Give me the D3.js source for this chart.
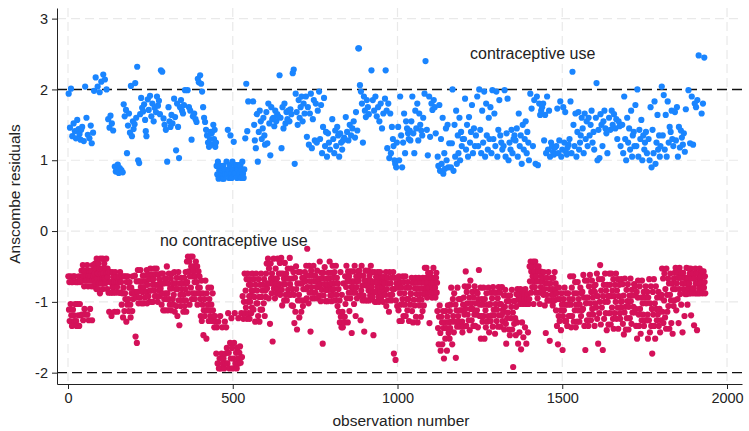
<!DOCTYPE html>
<html>
<head>
<meta charset="utf-8">
<title>Anscombe residuals</title>
<script src="https://cdn.jsdelivr.net/npm/d3@7"></script>
<style>
	body { margin: 0; background: #fff; }
	text { font-family: "Liberation Sans", Arial, sans-serif; }
</style>
</head>
<body>
<div id="chart"></div>
<script>
// Anscombe residuals in observation order, 40 observations per row
// (row r, position j -> observation number r*40 + j + 1)
var residRows = [
[-0.64,1.94,-1.11,-0.72,-1.27,1.46,-0.64,-1.03,2.01,-1.19,-0.72,-1.34,1.34,-0.72,-1.11,-0.64,1.52,-1.19,-1.27,-0.64,1.41,-1.03,-0.72,1.31,-1.27,-1.34,-0.72,1.57,-1.03,-0.72,-1.19,1.44,-0.64,-1.34,1.37,-1.03,-0.72,1.29,-1.19,1.43],
[-0.56,-1.18,1.47,-0.7,-0.48,-1.26,-0.63,1.27,-0.78,-1.1,-0.56,2.04,-0.7,-1.18,-0.63,1.6,-0.7,-0.48,-1.18,1.36,-0.78,-0.63,-1.26,-0.56,1.31,-0.7,-1.1,-0.63,1.49,-0.56,-0.78,1.24,-1.26,-0.7,-0.48,1.39,-0.63,-0.78,1.98,-0.7],
[-0.6,-0.46,-0.74,2.17,-0.53,-0.82,-0.39,-0.67,-0.6,2.04,-0.82,-0.46,-0.6,-0.74,-0.53,1.96,-0.88,-0.39,-0.67,-0.6,2.11,-0.74,-0.53,-0.67,-0.39,-0.82,2.21,-0.6,-0.67,-0.46,-0.67,2.14,-0.74,-0.53,-0.67,-0.39,2.0,-0.6,-0.82,-0.53],
[-0.65,1.58,-0.87,-0.58,-1.14,1.46,-0.72,-0.58,1.63,-0.87,-0.72,-1.2,1.52,-0.58,-0.79,-0.87,1.42,-0.65,-0.79,-0.72,-1.14,0.91,-0.58,-0.87,0.84,-0.72,-0.65,0.87,-0.79,-1.14,0.94,-0.65,-0.72,0.82,-0.87,-0.65,0.89,-0.58,-0.87,-0.72],
[-0.72,0.86,-1.04,-0.64,-0.88,0.83,-1.22,-0.8,1.79,-0.64,-1.13,1.62,-0.88,-0.96,-0.64,1.71,-1.28,-0.72,1.1,-1.04,-0.64,1.49,-0.96,-1.13,1.66,-0.8,-0.72,1.39,-1.04,-1.22,2.05,-0.8,-0.88,1.34,-1.13,-0.64,1.55,-0.96,1.44,-0.88],
[-0.86,1.51,-0.63,2.09,-1.49,-0.94,1.6,-0.71,-1.58,2.32,-0.86,-0.55,1.0,-1.02,-0.71,0.96,-0.71,-0.94,1.65,-0.55,-0.79,1.88,-1.02,-0.71,1.74,-0.86,-0.63,1.69,-1.02,-0.79,1.79,-0.63,-0.94,1.57,-0.71,1.41,-0.86,1.34,-0.55,-1.02],
[-0.76,1.86,-0.61,-0.92,1.71,-0.68,-1.0,-0.84,1.91,-0.53,-0.84,-0.68,1.62,-1.0,-0.61,1.8,-0.76,-1.0,-0.68,1.55,-0.84,-0.53,1.74,-0.92,-0.76,-0.61,1.68,-0.92,-0.53,1.9,-0.76,-1.0,1.77,-0.61,-0.84,1.84,-0.68,-0.92,1.65,-0.76],
[-0.81,2.27,-0.6,-1.04,-0.74,2.25,-0.88,-0.6,-1.12,1.59,-0.74,-0.96,1.5,-0.67,-1.12,-0.88,1.43,-0.67,-0.96,-0.5,0.98,-0.88,-1.12,-0.74,1.75,-0.6,-0.96,1.55,-1.04,-0.81,1.47,-0.67,-1.12,1.64,-0.81,-0.6,1.52,-0.96,-0.74,-1.04],
[-0.9,1.87,-0.58,-1.14,1.61,-0.74,-0.82,1.14,-1.06,-0.66,1.8,-1.2,-0.82,1.47,-0.58,-0.98,1.03,-1.33,-0.74,1.75,-0.9,-1.06,1.85,-0.66,-0.82,1.7,-0.98,-0.74,1.66,-1.14,-0.9,1.78,-0.66,-1.06,1.99,-0.82,-0.58,-0.98,-1.14,-0.74],
[-0.43,-0.72,1.99,-0.36,-0.88,-0.57,1.75,-0.43,-1.04,-0.64,1.7,-0.36,-0.8,-0.5,1.29,-0.96,-0.64,-0.36,1.62,-0.88,-0.57,-0.5,1.66,-0.72,-0.96,-0.64,1.58,-0.43,-0.88,1.54,-0.72,-0.5,-1.04,2.15,-0.8,-0.57,2.1,-0.88,-0.64,-0.8],
[2.2,-0.96,-1.2,2.08,-0.7,-1.27,1.97,-1.04,-0.88,1.75,-1.47,-1.12,1.6,-0.96,-1.2,1.54,-0.7,-1.12,1.43,-1.52,-0.88,1.35,-1.12,-1.04,1.25,-0.8,-1.27,1.19,-0.96,-1.12,1.3,-1.2,1.4,-0.8,-1.04,1.38,-1.27,1.22,-0.88,-1.12],
[1.5,-1.2,1.3,-1.36,1.43,-1.2,1.19,-1.28,1.25,-1.73,0.92,-1.36,0.8,-1.87,0.98,-1.28,0.74,-1.94,0.86,-1.8,0.8,-1.2,0.92,-1.94,0.8,-1.73,0.86,-1.36,0.74,-1.87,0.92,-1.8,0.74,-1.94,0.86,-1.28,0.8,-1.73,-1.87,-1.36],
[0.98,-1.65,0.81,-1.87,1.43,-1.16,0.87,-1.72,0.75,-1.94,0.93,-1.58,1.35,-1.8,0.81,-1.23,0.75,-1.65,0.98,-1.94,0.87,-1.8,1.26,-1.58,0.81,-1.16,0.93,-1.87,0.81,-1.72,0.93,-1.94,0.75,-1.65,0.87,-1.8,-1.23,-1.87,0.93,-1.72],
[0.81,-1.63,0.93,-1.86,0.75,-1.16,0.87,-1.78,0.98,-0.92,0.81,-1.24,0.75,-1.0,0.87,-0.6,-1.16,1.31,-0.84,-1.08,2.08,-0.68,-1.24,1.41,-0.6,-1.0,1.83,-1.16,-0.76,-0.92,-1.24,-0.68,-1.0,-0.92,-0.76,-1.16,-0.84,-1.08,-0.6,-0.92],
[-0.84,1.83,-1.11,-0.68,1.5,-0.93,1.28,-1.28,-0.76,1.17,-0.6,-1.02,1.65,-0.84,-1.02,0.98,-1.2,-0.68,1.4,-0.93,-1.28,1.7,-0.76,-1.11,1.55,-0.6,-0.93,1.3,-1.11,-0.84,1.45,-0.76,1.6,-1.02,-0.68,1.35,-1.2,1.22,-0.84,-0.93],
[-0.6,1.68,-0.46,-0.81,1.24,-0.74,-0.39,1.8,-0.95,-0.53,1.52,-0.74,-1.31,1.07,-0.46,-0.67,1.75,-0.88,-0.6,1.58,-1.56,-0.74,1.6,-0.39,-0.81,1.48,-0.67,-0.95,1.7,-0.53,-0.74,1.55,-0.88,-0.67,1.65,-0.39,-0.81,1.62,-0.88,-0.6],
[-0.75,2.2,-0.45,-0.9,1.6,-0.6,-0.38,1.17,-0.83,-1.05,1.75,-0.6,-0.75,1.45,-0.67,-0.98,1.8,-0.45,-0.75,1.52,-0.9,-0.6,1.68,-0.98,-0.67,1.58,-0.53,-0.83,1.7,-0.67,-0.9,1.55,-0.38,-0.75,1.72,-0.9,-0.53,1.65,-1.05,-0.67],
[-0.82,2.23,-1.06,-0.58,2.28,-0.9,-1.3,0.95,-0.66,-1.14,1.94,-0.5,-0.82,1.68,-1.39,-0.74,1.5,-0.98,-0.58,1.85,-0.9,-1.22,1.6,-0.74,-0.58,1.75,-0.98,-1.14,1.9,-0.74,-0.66,1.55,-1.06,-0.82,1.8,-0.66,-0.98,1.66,-0.58,-0.82],
[-0.71,1.9,-0.49,-0.95,1.33,-0.25,-0.79,1.75,-0.63,-1.02,1.22,-0.49,-0.87,1.66,-0.71,-1.42,1.94,-0.56,-0.79,1.17,-0.95,-0.63,1.58,-0.87,-0.49,1.85,-0.71,-0.95,1.28,-0.63,-0.87,1.8,-0.71,-0.79,1.25,-0.56,-0.95,1.7,-0.71,-0.79],
[-0.67,1.97,-0.91,-0.43,1.3,-0.75,-0.99,1.78,-0.59,-0.83,1.1,-0.67,-1.59,1.47,-0.59,-0.91,1.88,-0.75,-0.51,1.2,-0.83,-0.99,1.4,-0.67,-0.83,1.05,-0.75,-0.99,1.38,-0.59,-0.83,1.25,-0.67,-0.43,1.15,-0.91,-0.75,-0.59,-0.83,-0.99],
[-0.74,1.58,-0.49,-0.9,1.3,-0.66,-0.82,1.1,-0.58,-0.98,1.42,-0.74,-0.49,1.2,-0.9,-0.66,1.47,-1.06,-0.74,1.35,-0.82,-1.14,1.05,-0.98,-1.29,1.38,-0.58,-1.21,1.25,-1.36,-0.9,1.15,-1.14,-1.36,1.28,-0.74,-1.21,1.32,-1.29,-1.21],
[-0.64,-1.03,1.61,-0.79,-0.49,-0.95,1.4,-0.71,-1.29,-0.57,1.28,-0.87,-0.64,-1.13,1.5,-0.71,-0.95,-0.57,1.35,-0.79,-1.44,-0.71,1.45,-0.87,-0.57,-0.79,1.55,-1.03,-0.71,-0.49,1.32,-0.87,-1.2,1.68,-0.64,-0.79,-0.95,1.42,-0.71,-0.57],
[2.58,-0.7,2.58,-0.56,-0.91,2.06,-0.63,-1.26,1.97,-0.84,-0.49,1.8,-0.77,-0.98,1.25,-0.63,-0.91,1.9,-1.42,-0.7,1.7,-0.98,-0.56,1.61,-0.77,-0.7,1.85,-0.98,-0.77,1.75,-0.56,-0.84,1.65,-0.98,-0.63,-0.77,-0.91,-0.7,-0.49,-0.84],
[2.27,-0.79,-0.58,-0.93,1.85,-0.72,-1.47,-0.86,1.7,-0.58,-1.0,-0.72,1.9,-0.86,-0.65,-1.0,1.62,-0.72,-0.79,-0.58,1.75,-0.93,-0.65,-1.0,1.55,-0.79,-0.58,-0.86,1.8,-0.72,-0.93,-0.65,1.45,-0.79,-0.72,-1.0,1.66,-0.65,-0.86,-0.72],
[-0.74,1.87,-0.9,2.27,-0.58,-1.06,1.7,-0.82,1.17,-0.66,-0.98,1.8,-0.74,-1.14,1.03,-0.58,-0.9,1.66,-0.74,1.1,-0.98,-0.66,1.47,-0.9,-0.82,1.3,-0.58,1.2,-1.73,-0.82,1.0,-0.66,0.95,-1.82,-0.98,0.9,-0.74,1.25,-1.06,-0.66],
[-0.8,1.47,-1.12,-0.64,1.0,-1.27,-0.88,1.9,-0.72,-1.04,1.35,-0.8,-1.27,0.9,-0.96,-0.64,1.25,-1.2,-0.72,1.66,-0.88,-1.04,1.1,-0.64,-1.2,1.55,-0.8,-0.96,1.45,-1.12,-0.72,1.38,-0.96,1.3,-1.27,-0.8,1.42,-1.04,1.28,-0.88],
[-0.89,1.55,-0.66,-1.13,1.9,-0.73,-1.29,1.38,-0.97,-0.73,1.1,-1.05,-0.81,1.7,-0.66,-1.21,1.45,-0.89,-0.73,1.8,-1.29,-0.81,1.28,-0.97,-0.66,1.66,-1.05,-0.89,1.5,-0.73,-1.21,1.42,-0.97,-0.81,1.35,-1.13,-0.66,1.6,-0.89,-1.05],
[-0.73,1.94,-0.52,-0.87,2.4,-0.66,-0.8,-0.52,1.43,-0.94,-0.73,1.07,-0.59,-0.87,-0.8,1.9,-1.3,-0.66,1.33,-0.59,-0.87,-0.73,1.8,-0.66,-0.94,1.71,-0.8,-0.73,-0.52,1.85,-0.87,-0.66,1.75,-0.8,-0.94,1.38,-0.66,-0.59,-0.87,-0.73],
[-1.13,1.05,-1.37,0.92,-1.6,-1.21,1.78,-1.05,0.85,-1.44,-1.69,1.3,-1.21,0.95,-1.29,-1.6,1.6,-1.13,0.81,-1.37,-1.8,1.1,-1.29,0.88,-1.52,-1.13,1.45,-1.37,1.0,-1.69,-1.21,1.5,-1.05,0.9,-1.44,-1.29,1.24,-1.52,-1.13,-1.37],
[-1.04,0.9,-0.8,-1.28,1.24,-1.6,2.0,-0.96,-1.2,0.85,-1.43,-0.88,1.5,-1.28,1.05,-1.04,-1.79,1.7,-1.12,0.95,-1.35,-0.8,1.35,-1.2,1.1,-0.96,-1.28,1.6,-1.12,1.0,-1.35,-0.96,1.4,-1.12,1.2,-1.28,-1.43,1.3,-1.04,-1.35],
[-0.94,1.3,-1.18,-0.78,1.87,-1.1,-0.57,1.15,-1.34,-0.86,1.5,-1.02,-1.18,1.05,-0.78,-1.26,1.61,-0.94,-1.4,1.25,-0.7,-1.1,1.4,-1.02,-1.26,1.78,-0.86,-1.1,1.1,-1.34,-0.94,1.45,-1.18,-0.78,1.2,-1.34,-1.02,1.35,-0.86,-1.18],
[-1.12,1.9,-0.88,-1.36,1.2,-0.96,-0.55,2.0,-1.2,-1.04,1.43,-0.8,-1.52,1.1,-1.2,-0.96,1.7,-1.28,-1.04,1.25,-0.8,-1.2,1.97,-1.52,-0.96,1.05,-1.12,-1.36,1.8,-0.88,1.35,-1.28,-1.04,1.15,-1.2,-0.8,1.6,-1.43,1.3,-1.04],
[-1.03,1.75,-1.27,-0.87,1.1,-1.19,-0.95,1.99,-1.35,-0.79,1.3,-1.11,-1.19,1.66,-0.87,-1.45,1.2,-1.03,-0.87,1.97,-1.27,-1.11,1.05,-0.95,-1.35,1.43,-0.79,-1.19,1.85,-1.03,-0.87,1.35,-1.35,-1.03,1.25,-1.19,-0.79,1.15,-1.27,-1.11],
[-1.15,1.2,-0.91,-1.39,1.99,-1.07,-0.83,1.05,-1.31,-1.59,1.38,-0.99,-1.23,1.87,-1.15,-0.91,1.0,-1.39,-0.99,1.25,-1.47,-0.91,1.15,-1.23,-1.07,1.43,-0.83,-1.39,1.1,-1.15,-1.92,1.3,-0.99,-1.31,1.35,-0.99,-1.23,1.28,-1.47,-1.07],
[-0.89,1.45,-1.29,-0.82,1.05,-1.59,-0.96,1.66,-0.89,-1.43,1.2,-1.03,-0.82,1.35,-1.67,-0.96,0.95,-1.29,-0.89,1.5,-1.03,-1.5,1.15,-0.89,-0.96,1.3,-1.36,-0.82,1.55,-1.03,-1.59,1.1,-0.96,1.4,-0.89,-1.43,1.25,-1.03,1.0,-0.96],
[-0.5,-0.71,1.94,-0.43,-0.87,-0.57,1.73,-0.5,-0.79,-0.64,1.2,-0.43,-1.03,-0.71,1.85,-0.57,-0.79,-0.43,0.95,-0.87,-0.64,-0.5,1.9,-0.71,-0.95,0.93,-0.57,-0.5,-0.87,1.8,-0.71,-1.03,1.64,-0.57,-0.79,1.7,-0.64,-0.87,1.75,-0.71],
[-0.66,1.8,-0.9,-0.58,1.28,-0.82,-1.05,1.64,-0.74,-1.44,1.1,-0.9,-0.66,1.9,-0.98,-0.74,1.15,-0.58,-0.98,1.7,-0.82,-1.55,1.05,-0.74,-0.98,1.25,-0.66,-0.9,1.2,-0.82,-1.05,1.12,-0.66,-0.9,1.08,-0.98,-0.58,1.18,-0.82,-0.74],
[-1.12,1.2,-0.88,-1.34,1.73,-0.96,-1.6,1.1,-1.2,-0.8,1.28,-1.27,-0.96,1.83,-1.12,-1.4,1.05,-0.88,-1.04,1.15,-1.68,-1.2,1.75,-0.96,-1.12,1.25,-0.8,-1.27,1.68,-1.04,1.12,-1.27,-0.88,1.08,-1.34,1.18,-1.04,-0.88,1.22,-1.2],
[-0.96,1.3,-1.2,-0.64,1.83,-1.04,-1.36,1.1,-0.8,-1.2,2.25,-0.96,-0.64,1.5,-1.28,-0.88,1.2,-1.12,-0.72,1.66,-1.36,-1.04,1.05,-0.88,-1.28,1.4,-0.72,-1.12,1.68,-0.96,1.15,-1.28,-1.04,1.25,-0.8,1.35,-1.2,-0.88,1.6,-1.12],
[-0.86,1.45,-1.1,-0.62,1.1,-0.94,-1.34,1.66,-0.7,-1.68,1.3,-1.02,-0.94,1.55,-1.26,-0.7,1.2,-0.94,-1.34,1.6,-0.78,-1.18,1.35,-0.62,-1.02,1.5,-1.26,-0.86,1.7,-0.7,-1.1,1.25,-0.94,-1.18,1.4,-0.78,1.15,-1.34,-0.86,-1.02],
[-0.76,1.6,-1.08,2.09,-0.6,-1.24,1.0,-0.92,-1.59,1.43,-0.68,-1.16,1.03,-1.0,-0.48,1.65,-1.32,-0.84,1.5,-1.08,-0.68,1.2,-1.68,-0.92,1.55,-0.76,-1.24,1.7,-1.0,-0.6,1.45,-1.16,-0.84,1.38,-1.4,-0.76,1.1,-1.0,-0.92,-1.32],
[-0.92,1.6,-0.6,-1.16,-0.76,1.43,-1.32,-0.92,-0.6,1.7,-1.08,-0.84,1.5,-1.24,-0.68,-1.38,1.65,-0.92,-1.16,-0.76,1.45,-1.0,-0.6,1.58,-1.24,-0.84,1.3,-1.08,-0.68,-1.38,1.55,-0.92,-0.76,1.48,-1.16,-1.24,1.2,-1.0,-0.68,-1.08],
[-0.99,1.5,-0.75,-1.31,1.1,-0.91,-1.46,1.9,-1.15,-0.67,1.3,-1.07,-1.39,1.0,-0.83,-1.23,1.6,-0.99,-0.75,1.25,-1.39,-1.07,1.45,-0.91,-1.23,1.15,-0.67,-0.99,1.7,-1.31,-0.83,1.05,-1.15,1.35,-0.91,-1.07,1.4,-0.75,1.2,-1.15],
[-0.78,1.78,-1.1,-1.34,1.2,-0.86,-1.52,2.0,-0.94,-0.7,1.05,-1.18,-1.34,1.43,-0.78,-1.1,1.3,-1.45,-0.94,1.57,-1.26,-0.7,1.0,-1.02,-1.18,1.35,-0.86,-1.34,1.15,-0.94,1.25,-1.26,-0.78,1.4,-1.02,-1.26,1.1,-0.86,-1.18,-1.52],
[-0.94,1.3,-1.26,-0.68,1.0,-1.43,-1.02,1.75,-0.78,-1.34,0.9,-1.1,-1.73,1.43,-0.86,-1.18,1.1,-0.68,-1.34,1.83,-1.02,-1.52,0.95,-0.78,-1.1,1.25,-1.26,-0.94,1.64,-1.18,1.15,-0.86,-1.34,1.35,-1.1,1.05,-1.43,1.2,-0.94,-1.26],
[-0.9,2.04,-0.53,-1.14,1.35,-0.67,-1.3,1.92,-0.98,-0.6,1.15,-1.22,-0.82,1.64,-1.38,-0.53,1.05,-0.9,-1.14,1.83,-0.67,-1.06,1.25,-0.74,-1.38,1.47,-0.9,-0.6,1.4,-0.98,-1.3,1.7,-0.74,1.3,-1.45,-0.82,1.2,-1.06,-0.67,-0.98],
[-0.59,1.68,-0.82,-0.52,1.28,-1.12,-0.74,1.75,-0.59,-0.96,1.05,-0.66,-1.3,1.47,-0.82,-0.52,1.18,-0.89,-0.66,1.42,-1.04,-0.59,1.32,-0.74,-1.43,1.22,-0.59,-0.82,1.38,-0.66,-1.2,1.12,-0.89,-0.66,1.72,-0.74,-0.52,-0.89,-0.66,-1.04],
[-0.67,-0.81,1.99,-0.53,-0.74,-0.88,-0.6,1.24,-0.88,-0.53,-1.19,-0.67,1.9,-0.81,-0.6,-0.88,1.22,-0.6,-0.81,-1.33,-0.67,1.8,-0.88,-0.53,-0.74,1.75,-0.6,-0.88,-1.4,1.85,-0.74,-0.6,-0.88,2.48,-0.67,-0.81,-0.53,-0.88,-0.67,-0.74],
[-0.64,-0.8,1.66,-0.57,-0.8,-0.88,1.8,-0.64,-0.57,-0.8,2.45,-0.72,-0.64,-0.88]
];

var xTicks = [0, 500, 1000, 1500, 2000];
var yTicks = [-2, -1, 0, 1, 2, 3];
var refLines = [-2, 2];
var seriesNames = ["contraceptive use", "no contraceptive use"];

var points = [];
residRows.forEach(function(row, r) {
	row.forEach(function(v, j) {
		points.push({ obs: r * 40 + j + 1, res: v });
	});
});

var width = 749, height = 431;
var blue = "#1a85ff", red = "#d41159";

var svg = d3.select("#chart").append("svg")
	.attr("width", width)
	.attr("height", height);

var x = d3.scaleLinear().domain([-33.4, 2045.5]).range([57, 742]);
var y = d3.scaleLinear().domain([-2.16, 3.15]).range([384, 8]);

// light dashed grid
svg.append("g").selectAll("line")
	.data(yTicks.filter(function(d) { return refLines.indexOf(d) < 0; }))
	.enter().append("line")
	.attr("x1", 57).attr("x2", 742)
	.attr("y1", function(d) { return y(d); })
	.attr("y2", function(d) { return y(d); })
	.attr("stroke", "#e9e9e9")
	.attr("stroke-width", 1.2)
	.attr("stroke-dasharray", "9,5");

svg.append("g").selectAll("line")
	.data(xTicks)
	.enter().append("line")
	.attr("y1", 8).attr("y2", 384)
	.attr("x1", function(d) { return x(d); })
	.attr("x2", function(d) { return x(d); })
	.attr("stroke", "#e9e9e9")
	.attr("stroke-width", 1.2)
	.attr("stroke-dasharray", "9,5");

// reference lines at +-2
svg.append("g").selectAll("line")
	.data(refLines)
	.enter().append("line")
	.attr("x1", 57).attr("x2", 742)
	.attr("y1", function(d) { return y(d); })
	.attr("y2", function(d) { return y(d); })
	.attr("stroke", "#111")
	.attr("stroke-width", 1.4)
	.attr("stroke-dasharray", "10,5");

// points
svg.append("g").selectAll("circle")
	.data(points)
	.enter().append("circle")
	.attr("cx", function(d) { return x(d.obs); })
	.attr("cy", function(d) { return y(d.res); })
	.attr("r", 3.1)
	.attr("fill", function(d) { return d.res > 0 ? blue : red; });

// axes
var yAxis = d3.axisLeft(y).tickValues(yTicks).tickSize(5).tickSizeOuter(0).tickPadding(4)
	.tickFormat(function(d) { return d < 0 ? "-" + Math.abs(d) : d; });
var xAxis = d3.axisBottom(x).tickValues(xTicks).tickSize(5).tickSizeOuter(0).tickPadding(4)
	.tickFormat(d3.format("d"));

var gy = svg.append("g").attr("transform", "translate(57,0)").call(yAxis);
var gx = svg.append("g").attr("transform", "translate(0,384)").call(xAxis);
[gy, gx].forEach(function(g) {
	g.selectAll("text").attr("font-size", 14.5).attr("fill", "#222")
		.style("font-family", '"Liberation Sans", Arial, sans-serif');
	g.selectAll("line, path").attr("stroke", "#222");
});

svg.append("text")
	.attr("transform", "translate(20,194) rotate(-90)")
	.attr("text-anchor", "middle")
	.attr("font-size", 15.5)
	.attr("fill", "#222")
	.text("Anscombe residuals");

svg.append("text")
	.attr("x", 401).attr("y", 426)
	.attr("text-anchor", "middle")
	.attr("font-size", 15.5)
	.attr("fill", "#222")
	.text("observation number");

// series labels
svg.append("text")
	.attr("x", x(1220)).attr("y", y(2.43))
	.attr("font-size", 16)
	.attr("fill", "#222")
	.text(seriesNames[0]);

svg.append("text")
	.attr("x", x(279)).attr("y", y(-0.21))
	.attr("font-size", 16)
	.attr("fill", "#222")
	.text(seriesNames[1]);
</script>
</body>
</html>
